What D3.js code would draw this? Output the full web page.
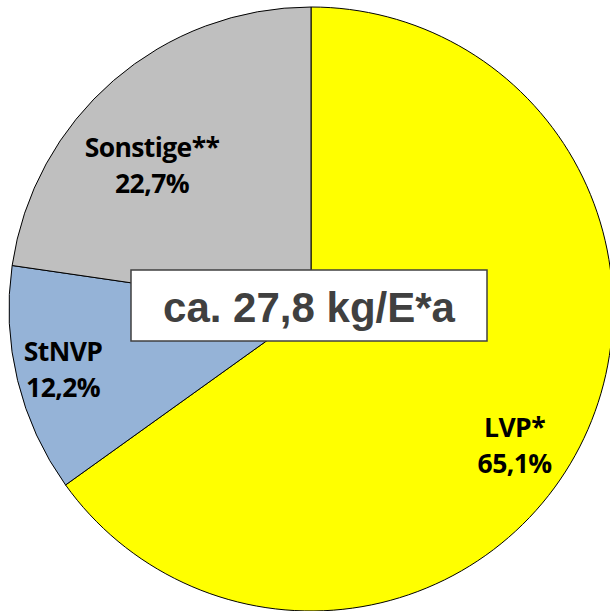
<!DOCTYPE html>
<html>
<head>
<meta charset="utf-8">
<script src="https://cdn.jsdelivr.net/npm/d3@7"></script>
<style>
  body { margin: 0; background: #fff; }
</style>
</head>
<body>
<script>
const categories = ["LVP*", "StNVP", "Sonstige**"];
const shares = [65.1, 12.2, 22.7];
const shareLabels = ["65,1%", "12,2%", "22,7%"];
const colors = ["#FFFF00", "#95B3D7", "#BFBFBF"];
const totalLabel = "ca. 27,8 kg/E*a";

const width = 610, height = 611;
const cx = 311, cy = 309, radius = 302;

const svg = d3.select('body')
    .append('svg')
    .attr('width', width)
    .attr('height', height)

const g = svg.append('g').attr('transform', `translate(${cx},${cy})`)

const data = categories.map((c, i) => ({ name: c, value: shares[i], label: shareLabels[i], color: colors[i] }))

const pie = d3.pie().sort(null).value(d => d.value)
const arc = d3.arc().innerRadius(0).outerRadius(radius)

const arcs = pie(data)

g.selectAll('path')
    .data(arcs)
    .join('path')
    .attr('d', arc)
    .attr('fill', d => d.data.color)
    .attr('stroke', '#000')
    .attr('stroke-width', 1)

// label placement: radius fraction + angle shift (deg) per slice, Excel-ish
const labelRadius = [0.81, 0.845, 0.71]
const labelShift = [6.5, 0, -7]

const labels = g.selectAll('g.lbl')
    .data(arcs)
    .join('g')
    .attr('class', 'lbl')
    .attr('transform', (d, i) => {
        const a = (d.startAngle + d.endAngle) / 2 + labelShift[i] * Math.PI / 180
        const r = radius * labelRadius[i]
        return `translate(${r * Math.sin(a)},${-r * Math.cos(a)})`
    })

labels.append('text')
    .attr('text-anchor', 'middle')
    .attr('y', -8)
    .attr('font-family', 'Open Sans, sans-serif')
    .attr('font-weight', 'bold')
    .attr('font-size', 26.5)
    .attr('letter-spacing', -0.6)
    .attr('fill', '#000')
    .text(d => d.data.name)

labels.append('text')
    .attr('text-anchor', 'middle')
    .attr('y', 28)
    .attr('font-family', 'Open Sans, sans-serif')
    .attr('font-weight', 'bold')
    .attr('font-size', 26.5)
    .attr('letter-spacing', -0.6)
    .attr('fill', '#000')
    .text(d => d.data.label)

// total box
svg.append('rect')
    .attr('x', 131)
    .attr('y', 270)
    .attr('width', 356)
    .attr('height', 71)
    .attr('fill', '#fff')
    .attr('stroke', '#404040')
    .attr('stroke-width', 1.5)

svg.append('text')
    .attr('x', 309)
    .attr('y', 322)
    .attr('text-anchor', 'middle')
    .attr('font-family', 'Liberation Sans, Arial, sans-serif')
    .attr('font-weight', 'bold')
    .attr('font-size', 42)
    .attr('fill', '#404040')
    .text(totalLabel)
</script>
</body>
</html>
